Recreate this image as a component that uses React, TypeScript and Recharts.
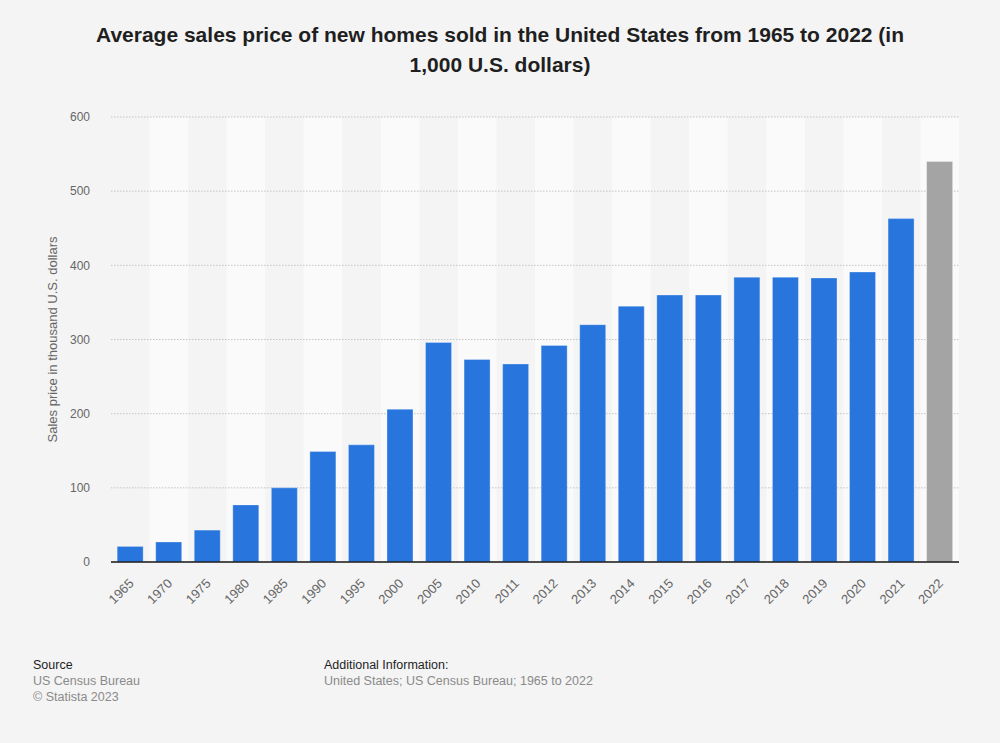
import React from 'react';
import { BarChart, Bar, XAxis, YAxis, CartesianGrid, ReferenceArea, Cell, Label } from 'recharts';

const years = ['1965', '1970', '1975', '1980', '1985', '1990', '1995', '2000', '2005', '2010', '2011', '2012', '2013', '2014', '2015', '2016', '2017', '2018', '2019', '2020', '2021', '2022'];
const prices = [21, 27, 43, 77, 100, 149, 158, 206, 296, 273, 267, 292, 320, 345, 360, 360, 384, 384, 383, 391, 463, 540];
const yTicks = [0, 100, 200, 300, 400, 500, 600];
const highlightYear = '2022';

const titleText = 'Average sales price of new homes sold in the United States from 1965 to 2022 (in 1,000 U.S. dollars)';
const yAxisTitle = 'Sales price in thousand U.S. dollars';
const sourceLines = ['US Census Bureau', '\u00A9 Statista 2023'];
const additionalInfo = 'United States; US Census Bureau; 1965 to 2022';

const data = years.map((year, i) => ({ year, price: prices[i] }));
const bandYears = years.filter((_, i) => i % 2 === 1);

const FONT = '"Liberation Sans", Arial, Helvetica, sans-serif';

const XTick = (props: any) => {
  const { x, y, payload } = props;
  return (
    <g transform={`translate(${x + 1},${y})`}>
      <text x={0} y={0} dy="0.35em" textAnchor="end" transform="rotate(-45)" fill="#666666" fontSize={13} fontFamily={FONT}>
        {payload.value}
      </text>
    </g>
  );
};

export default function App() {
  return (
    <div style={{ position: 'absolute', left: 0, top: 0, width: 1000, height: 743, background: '#f4f4f4', fontFamily: FONT, overflow: 'hidden' }}>
      <div style={{ position: 'absolute', left: 80, width: 840, top: 20, textAlign: 'center', fontWeight: 'bold', fontSize: 21, lineHeight: '30px', color: '#1f1f1f' }}>
        {titleText}
      </div>
      <div style={{ position: 'absolute', left: 0, top: 0 }}>
        <BarChart width={1000} height={743} data={data} margin={{ top: 117, right: 41, bottom: 0, left: 0 }} barCategoryGap="16%">
          {bandYears.map((y) => (
            <ReferenceArea key={y} x1={y} x2={y} y1={0} y2={600} fill="#fafafa" fillOpacity={1} stroke="none" ifOverflow="visible" zIndex={-150} />
          ))}
          <CartesianGrid vertical={false} stroke="#c4c4c4" strokeDasharray="1.5 1.5" />
          <XAxis dataKey="year" interval={0} tickLine={false} tickSize={0} tickMargin={19} height={181} axisLine={{ stroke: '#1a1a1a', strokeWidth: 1.5 }} tick={<XTick />} />
          <YAxis width={111} domain={[0, 600]} ticks={yTicks} axisLine={false} tickLine={false} tickSize={0} tickMargin={21} tick={{ fill: '#666666', fontSize: 12, fontFamily: FONT }}>
            <Label value={yAxisTitle} angle={-90} position="center" dx={-3} fill="#666666" fontSize={13} fontFamily={FONT} />
          </YAxis>
          <Bar dataKey="price" isAnimationActive={false} stroke="#ffffff" strokeOpacity={0.3} strokeWidth={1}>
            {data.map((d) => (
              <Cell key={d.year} fill={d.year === highlightYear ? '#a4a4a4' : '#2876dd'} />
            ))}
          </Bar>
        </BarChart>
      </div>
      <div style={{ position: 'absolute', left: 33, top: 657, fontSize: 12.5, lineHeight: '16px' }}>
        <div style={{ color: '#1f1f1f' }}>Source</div>
        {sourceLines.map((s) => (
          <div key={s} style={{ color: '#8a8a8a' }}>{s}</div>
        ))}
      </div>
      <div style={{ position: 'absolute', left: 324, top: 657, fontSize: 12.5, lineHeight: '16px' }}>
        <div style={{ color: '#1f1f1f' }}>Additional Information:</div>
        <div style={{ color: '#8a8a8a' }}>{additionalInfo}</div>
      </div>
    </div>
  );
}
